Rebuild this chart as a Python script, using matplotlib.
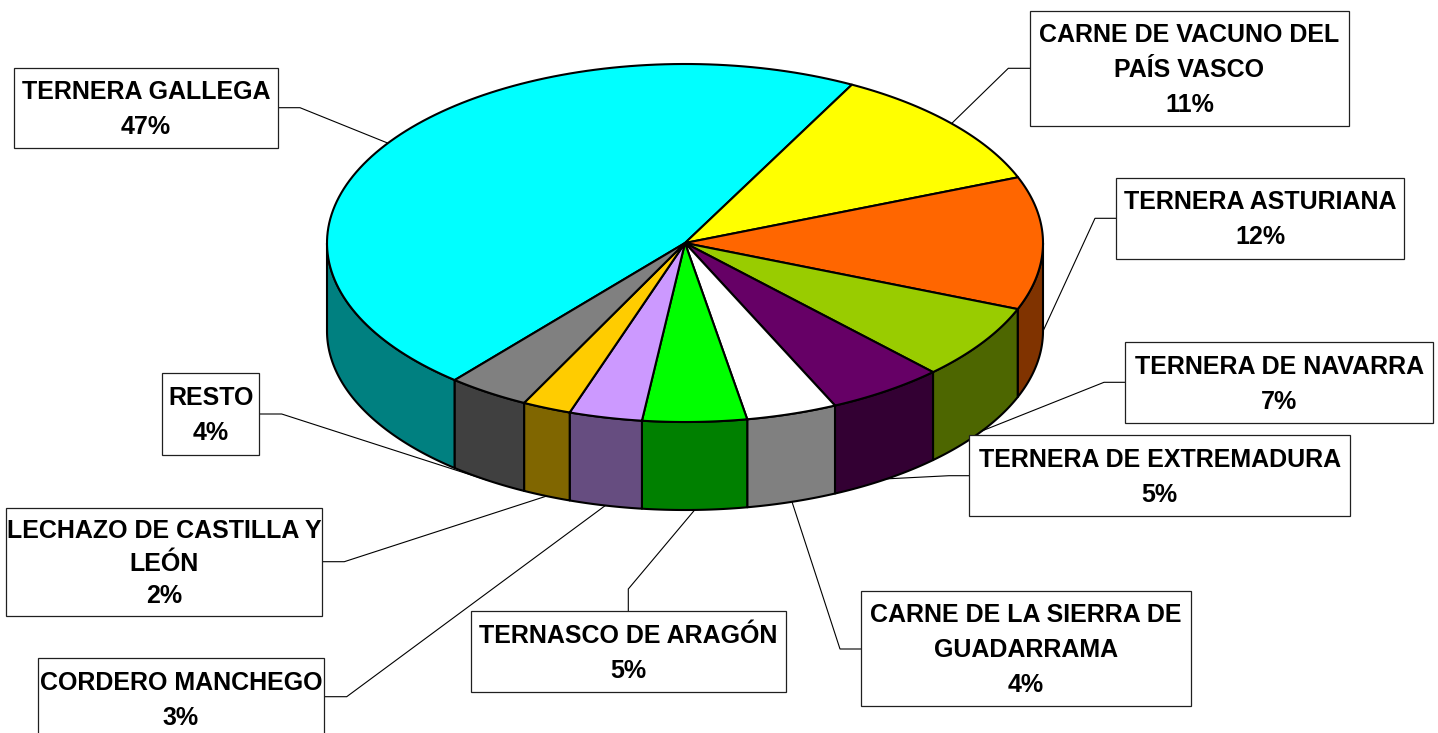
import numpy as np
import matplotlib
matplotlib.use("Agg")
import matplotlib.pyplot as plt
from matplotlib.patches import Polygon, Rectangle
from matplotlib import colors as mcolors

# ---------------- data ----------------
categories = ["TERNERA GALLEGA", "CARNE DE VACUNO DEL\nPAÍS VASCO", "TERNERA ASTURIANA",
              "TERNERA DE NAVARRA", "TERNERA DE EXTREMADURA",
              "CARNE DE LA SIERRA DE\nGUADARRAMA", "TERNASCO DE ARAGÓN",
              "CORDERO MANCHEGO", "LECHAZO DE CASTILLA Y\nLEÓN", "RESTO"]
values = [46.6, 11.3, 12.0, 6.8, 5.3, 4.1, 4.7, 3.3, 2.2, 3.7]
slice_colors = ["#00FFFF", "#FFFF00", "#FF6600", "#99CC00", "#660066",
                "#FFFFFF", "#00FF00", "#CC99FF", "#FFCC00", "#808080"]

# ---------------- layout ----------------
W, H = 1438, 733
fig = plt.figure(figsize=(W / 100, H / 100), dpi=100)
ax = fig.add_axes([0, 0, 1, 1])
ax.set_xlim(0, W)
ax.set_ylim(H, 0)
ax.axis("off")

cx, cy, rx, ry, depth = 685, 243, 358, 179, 88
start_angle = 229.97
LW = 1.5

# label boxes: (x0, y0, x1, y1), attach point, elbow point, line spacing
boxes = [
    ((14, 67.5, 277.5, 148.3), (277.5, 107.7), (300, 107.7), 35),
    ((1030, 10.7, 1349, 126), (1030, 68.3), (1008.3, 68.3), 35),
    ((1116, 177.7, 1404, 259), (1116, 218.3), (1095, 218.3), 35),
    ((1125.3, 342.3, 1433.3, 423.3), (1125.3, 382.3), (1104, 382.3), 35),
    ((969.3, 435.3, 1350, 516), (969.3, 475.7), (949, 475.7), 35),
    ((861, 590.7, 1191, 706), (861, 649), (840, 649), 35),
    ((470.7, 611, 785.7, 692), (628.3, 611), (628.3, 589), 35),
    ((37.7, 658.3, 324, 739), (324, 696.7), (346.7, 696.7), 35),
    ((5.5, 508.3, 322.3, 616), (322.3, 561.7), (344.3, 561.7), 32.5),
    ((162.3, 373.3, 259.3, 455), (259.3, 414), (281.7, 414), 35),
]


def ell(t, dz=0.0):
    r = np.radians(t)
    return cx + rx * np.cos(r), cy - ry * np.sin(r) + dz


def arc(a, b, dz=0.0, n=120):
    ts = np.linspace(a, b, n)
    xs, ys = ell(ts, dz)
    return np.column_stack([xs, ys])


vals = np.array(values, dtype=float)
spans = vals / vals.sum() * 360.0
t_start = start_angle - np.concatenate([[0], np.cumsum(spans)[:-1]])
t_end = t_start - spans

# ---- walls ----
front_intervals = [(-180.0, 0.0), (180.0, 360.0)]
for i in range(len(values)):
    top_rgb = np.array(mcolors.to_rgb(slice_colors[i]))
    wall_col = top_rgb * 0.5
    lo, hi = t_end[i], t_start[i]
    for fa, fb in front_intervals:
        a, b = max(lo, fa), min(hi, fb)
        if b - a > 1e-6:
            top = arc(a, b)
            bot = arc(b, a, depth)
            poly = Polygon(np.vstack([top, bot]), closed=True, facecolor=wall_col,
                           edgecolor="black", lw=LW, joinstyle="round", zorder=2)
            ax.add_patch(poly)

# ---- top faces ----
for i in range(len(values)):
    pts = np.vstack([[cx, cy], arc(t_start[i], t_end[i])])
    ax.add_patch(Polygon(pts, closed=True, facecolor=slice_colors[i], edgecolor="black",
                         lw=LW, joinstyle="round", zorder=3))

# ---- labels ----
font = dict(family=["Liberation Sans", "DejaVu Sans"], weight="bold", size=18)
for i, cat in enumerate(categories):
    (x0, y0, x1, y1), attach, elbow, spacing = boxes[i]
    mid = (t_start[i] + t_end[i]) / 2.0
    if np.sin(np.radians(mid)) < 0:
        anchor = ell(mid, depth)
    else:
        anchor = ell(mid)
    ax.plot([attach[0], elbow[0], anchor[0]], [attach[1], elbow[1], anchor[1]],
            color="black", lw=0.8, zorder=1, solid_joinstyle="miter")
    ax.add_patch(Rectangle((x0, y0), x1 - x0, y1 - y0, facecolor="white",
                           edgecolor="#202020", lw=0.9, zorder=4))
    lines = cat.split("\n") + [f"{round(values[i]):d}%"]
    n = len(lines)
    yc = (y0 + y1) / 2.0
    xc = (x0 + x1) / 2.0
    for k, line in enumerate(lines):
        ly = yc + (k - (n - 1) / 2.0) * spacing
        ax.text(xc, ly + 8.6, line, ha="center", va="baseline", color="black",
                zorder=5, **font)

fig.savefig("out.png", dpi=100)
